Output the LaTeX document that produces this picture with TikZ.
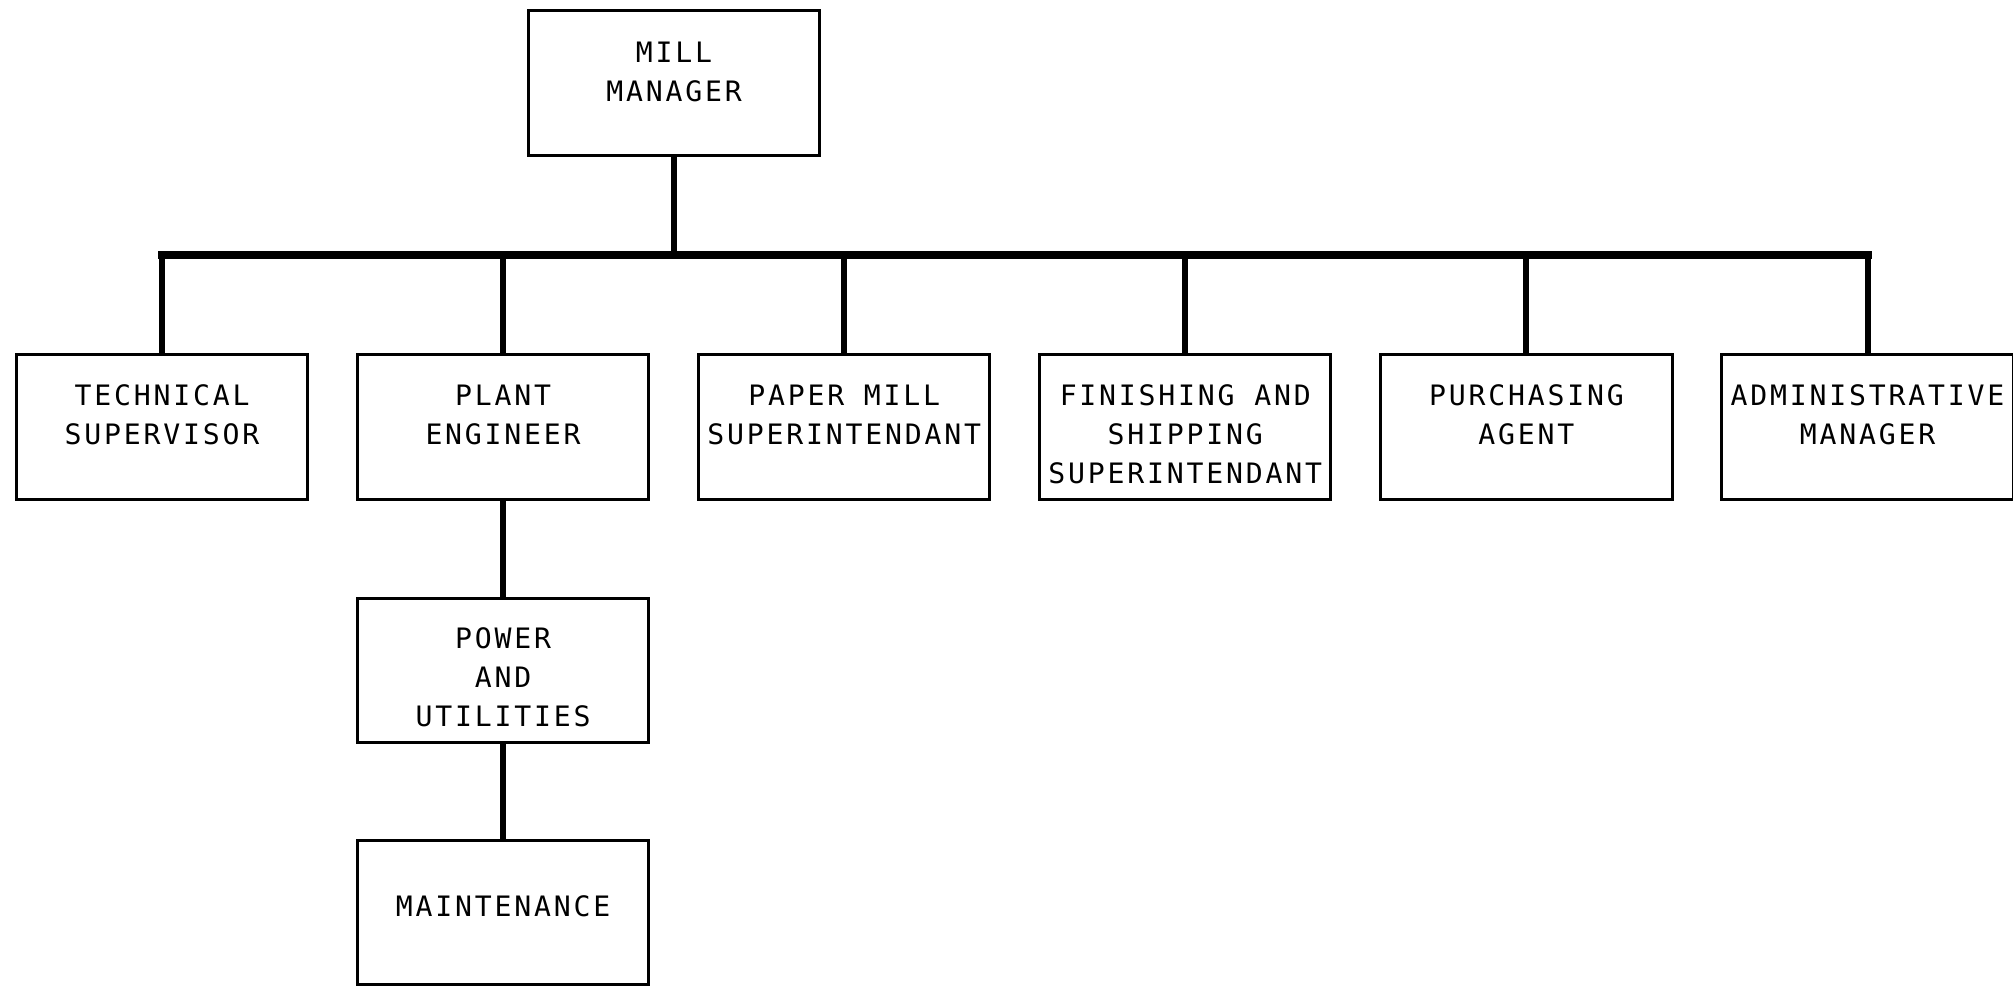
\documentclass[tikz,border=0pt]{standalone}
\usepackage{fontspec}
\newfontfamily\plotfont{DejaVu Sans Mono}[LetterSpace=10]
\usepackage{tikz}
\usetikzlibrary{positioning}
\tikzset{every picture/.style={x=0.01cm, y=-0.01cm}}
\tikzset{unit/.style={draw, line width=0.85pt, inner sep=0pt, font=\plotfont\fontsize{8pt}{11.1pt}\selectfont}}
\tikzset{link/.style={line width=1.7pt}}
\newcommand{\unittext}[2]{\parbox[c][1.44cm][t]{2.91cm}{\centering\rule{0pt}{#1}#2}}

\begin{document}
\begin{tikzpicture}
\useasboundingbox (0,0) rectangle (2013,990);
\node[unit] (mill) at (674,83) {\unittext{0.51cm}{MILL\\MANAGER}};
\coordinate (bus) at (674,255);
\foreach \n/\txt [count=\i] in {tech/{TECHNICAL\\SUPERVISOR}, plant/{PLANT\\ENGINEER}, paper/{PAPER MILL\\SUPERINTENDANT}, finish/{FINISHING AND\\SHIPPING\\SUPERINTENDANT}, purch/{PURCHASING\\AGENT}, admin/{ADMINISTRATIVE\\MANAGER}} {
\pgfmathsetmacro{\cx}{162 + 341.1*(\i - 1)}
\node[unit] (\n) at (\cx,427) {\unittext{0.5cm}{\txt}};
\draw[link] (\n.north) -- (\n.north |- bus);
}
\draw[link, line width=2.5pt, line cap=rect] (tech.north |- bus) -- (admin.north |- bus);
\draw[link] (mill) -- (bus);
\node[unit, below=0.96cm of plant] (power) {\unittext{0.5cm}{POWER\\AND\\UTILITIES}};
\node[unit, below=0.95cm of power] (maint) {\unittext{0.76cm}{MAINTENANCE}};
\draw[link] (plant) -- (power);
\draw[link] (power) -- (maint);
\end{tikzpicture}
\end{document}
